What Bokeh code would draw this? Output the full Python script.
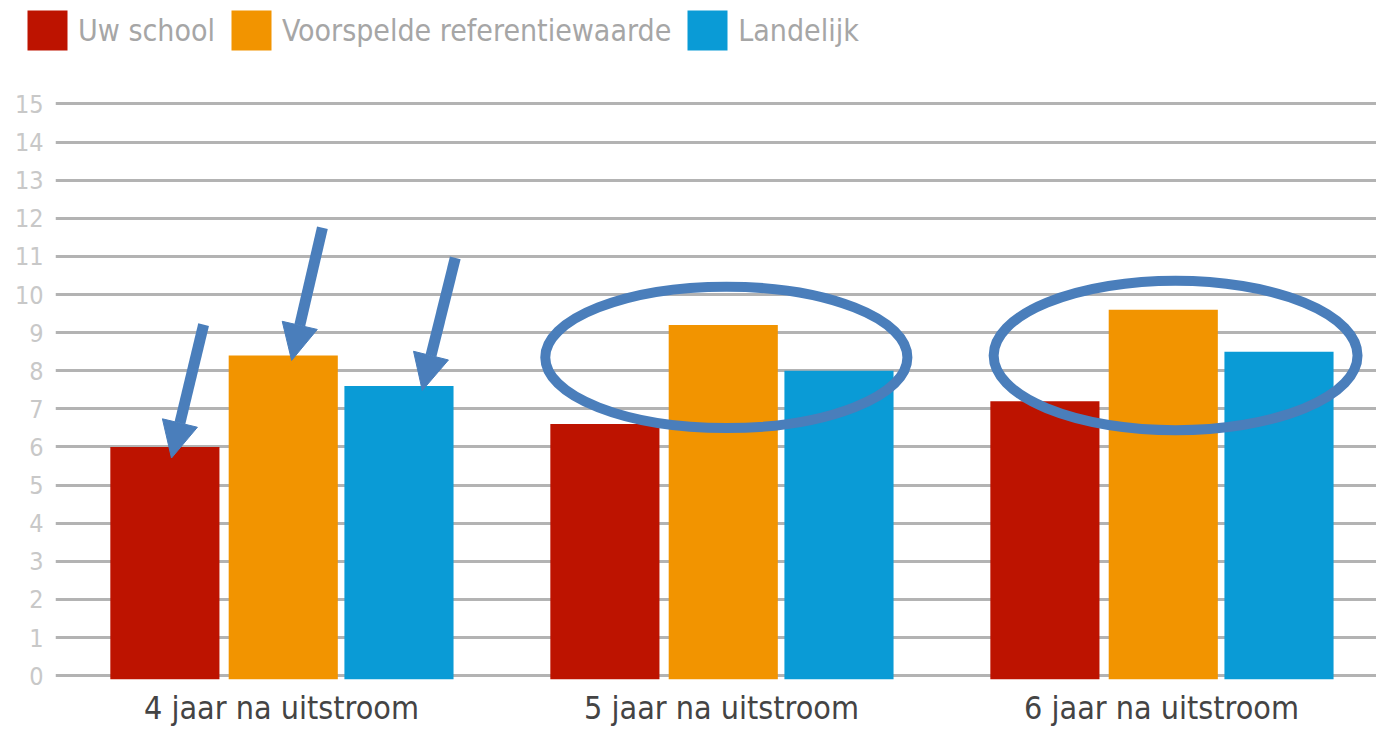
from bokeh.plotting import figure
from bokeh.layouts import column
from bokeh.models import Range1d, FixedTicker, ColumnDataSource, Arrow, NormalHead, Legend, LegendItem
from bokeh.transform import dodge
from bokeh.embed import file_html
from bokeh.resources import INLINE

# ---------------- data ----------------
categories = ["4 jaar na uitstroom", "5 jaar na uitstroom", "6 jaar na uitstroom"]
series_names = ["Uw school", "Voorspelde referentiewaarde", "Landelijk"]
uw_school = [6.0, 6.6, 7.2]
voorspelde_referentiewaarde = [8.4, 9.2, 9.6]
landelijk = [7.6, 8.0, 8.5]
y_ticks = [0, 1, 2, 3, 4, 5, 6, 7, 8, 9, 10, 11, 12, 13, 14, 15]

# hand-drawn annotations (data coordinates)
arrow_x_start = [-0.177, 0.093, 0.395]
arrow_y_start = [9.21, 11.75, 10.96]
arrow_x_end = [-0.250, 0.023, 0.320]
arrow_y_end = [5.71, 8.27, 7.48]
ellipse_x = [1.011, 2.032]
ellipse_y = [8.35, 8.40]
ellipse_w = [0.823, 0.827]
ellipse_h = [3.71, 3.92]

# ---------------- style ----------------
FONT = "'DejaVu Sans Condensed', 'DejaVu Sans', sans-serif"
COLORS = ["#bd1300", "#f29400", "#0a9bd6"]
COLS = ["uw", "vr", "la"]
OFFSETS = [-0.265, 0.004, 0.267]
BAR_W = 0.248
ANNOT = "#4a7ebb"
Y_START, Y_END = -0.1, 16.27
W = 1376
LEG_H = 55

src = ColumnDataSource(dict(
    x=list(range(len(categories))),
    uw=uw_school,
    vr=voorspelde_referentiewaarde,
    la=landelijk,
))

# ---------------- legend strip ----------------
# its y range lies far above the data, so its bars stay out of view; only the legend shows
lf = figure(width=W, height=LEG_H, x_range=Range1d(-0.5, 2.5), y_range=Range1d(100, 101),
            output_backend="svg", toolbar_location=None,
            x_axis_location=None, y_axis_location=None,
            min_border_left=0, min_border_right=0, min_border_top=0, min_border_bottom=0)
lf.frame_align = False
lf.outline_line_color = None
lf.grid.visible = False
leg_renderers = [lf.vbar(x="x", top=c, width=0.1, source=src, fill_color=col, line_color=None)
                 for c, col in zip(COLS, COLORS)]
lg = Legend(items=[LegendItem(label=n, renderers=[r]) for n, r in zip(series_names, leg_renderers)],
            orientation="horizontal", location=(22, 0), margin=0, padding=0, spacing=11,
            glyph_width=50, glyph_height=50, label_standoff=6,
            label_text_font=FONT, label_text_font_size="30px", label_text_color="#a6a6a6",
            background_fill_alpha=0, border_line_alpha=0)
lf.add_layout(lg)

# ---------------- main chart ----------------
p = figure(width=W, height=729 - LEG_H,
           x_range=Range1d(-0.5136, 2.4886), y_range=Range1d(Y_START, Y_END),
           output_backend="svg", toolbar_location=None,
           min_border_left=55, min_border_right=0, min_border_top=0, min_border_bottom=48)
p.frame_align = False
p.outline_line_color = None
p.background_fill_color = "white"
p.border_fill_color = "white"

p.xgrid.grid_line_color = None
p.ygrid.ticker = FixedTicker(ticks=y_ticks)
p.ygrid.grid_line_color = "#b3b3b3"
p.ygrid.grid_line_width = 3

p.yaxis.ticker = FixedTicker(ticks=y_ticks)
p.yaxis.axis_line_color = None
p.yaxis.major_tick_line_color = None
p.yaxis.minor_tick_line_color = None
p.yaxis.major_tick_in = 0
p.yaxis.major_tick_out = 0
p.yaxis.major_label_standoff = 12
p.yaxis.major_label_text_font = FONT
p.yaxis.major_label_text_font_size = "25px"
p.yaxis.major_label_text_color = "#c8c8c8"

p.xaxis.ticker = FixedTicker(ticks=list(range(len(categories))))
p.xaxis.major_label_overrides = {i: c for i, c in enumerate(categories)}
p.xaxis.axis_line_color = None
p.xaxis.major_tick_line_color = None
p.xaxis.minor_tick_line_color = None
p.xaxis.major_tick_in = 0
p.xaxis.major_tick_out = 0
p.xaxis.major_label_standoff = 9
p.xaxis.major_label_text_font = FONT
p.xaxis.major_label_text_font_size = "32px"
p.xaxis.major_label_text_color = "#444444"

for c, color, off in zip(COLS, COLORS, OFFSETS):
    p.vbar(x=dodge("x", off, range=p.x_range), top=c, bottom=Y_START, width=BAR_W,
           source=src, fill_color=color, line_color=None)

p.ellipse(x=ellipse_x, y=ellipse_y, width=ellipse_w, height=ellipse_h,
          fill_alpha=0, line_color=ANNOT, line_width=10)

for xs, ys, xe, ye in zip(arrow_x_start, arrow_y_start, arrow_x_end, arrow_y_end):
    p.add_layout(Arrow(end=NormalHead(size=36, fill_color=ANNOT, line_color=ANNOT, line_width=1),
                       x_start=xs, y_start=ys, x_end=xe, y_end=ye,
                       line_color=ANNOT, line_width=11))

layout = column(lf, p, spacing=0)
open("out.html", "w").write(file_html(layout, INLINE))
